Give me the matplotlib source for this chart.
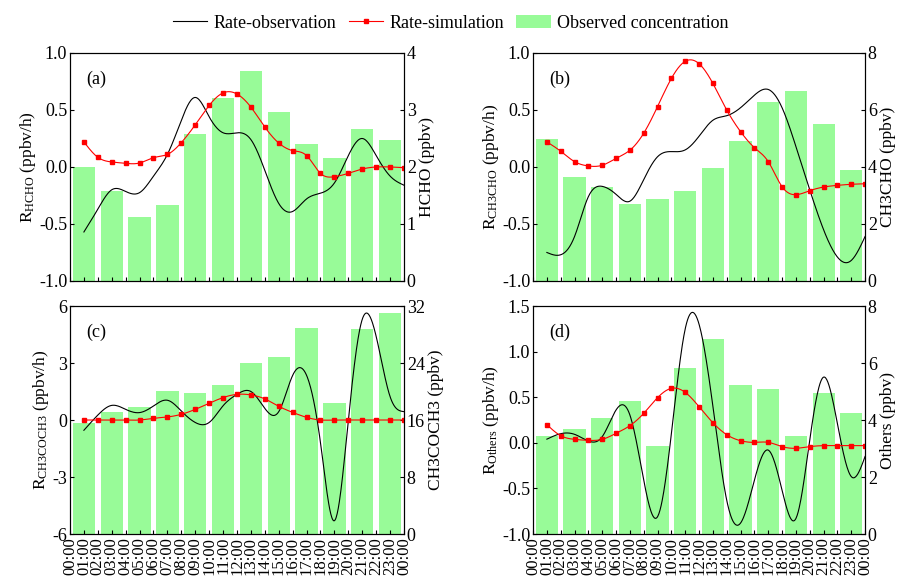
# ─────────────────────────────────────────────────────────
# plot.py
# Tagesgang: Rate-Beobachtung / Rate-Simulation / Konzentration
# ─────────────────────────────────────────────────────────

import numpy as np
import matplotlib.pyplot as plt
from matplotlib.lines import Line2D
from matplotlib.patches import Patch

plt.rcParams["font.family"] = ["Liberation Serif", "DejaVu Serif"]
plt.rcParams["mathtext.fontset"] = "custom"
plt.rcParams["mathtext.rm"] = "Liberation Serif"
plt.rcParams["mathtext.it"] = "Liberation Serif:italic"
plt.rcParams["axes.unicode_minus"] = False


# ══════════════════════════════════════════════════════════
# DATEN
# ══════════════════════════════════════════════════════════

stunden_labels = [f"{h % 24:02d}:00" for h in range(25)]
bar_stunden    = np.arange(1, 24, 2)
rate_stunden   = np.arange(1, 25)

# (a) HCHO
konz_a = [2.00, 1.57, 1.12, 1.34, 2.57, 3.21, 3.68, 2.97, 2.40, 2.16, 2.66, 2.47]
sim_a  = [0.22, 0.085, 0.044, 0.032, 0.035, 0.082, 0.11, 0.214, 0.37, 0.54,
          0.65, 0.64, 0.525, 0.35, 0.21, 0.144, 0.10, -0.056, -0.085, -0.056,
          -0.018, 0.0, 0.0, -0.006]
obs_a  = [-0.57, -0.37, -0.20, -0.215, -0.225, -0.08, 0.11, 0.41, 0.61, 0.44,
          0.30, 0.30, 0.24, -0.03, -0.32, -0.39, -0.28, -0.23, -0.14, 0.10,
          0.25, 0.10, -0.08, -0.16]

# (b) CH3CHO
konz_b = [4.99, 3.65, 3.30, 2.71, 2.87, 3.16, 3.98, 4.91, 6.29, 6.67, 5.51, 3.89]
sim_b  = [0.22, 0.138, 0.047, 0.009, 0.015, 0.076, 0.147, 0.296, 0.53, 0.777,
          0.927, 0.906, 0.733, 0.50, 0.31, 0.17, 0.047, -0.173, -0.243, -0.208,
          -0.176, -0.161, -0.152, -0.147]
obs_b  = [-0.75, -0.77, -0.61, -0.26, -0.17, -0.24, -0.30, -0.11, 0.09, 0.135,
          0.15, 0.27, 0.41, 0.45, 0.52, 0.63, 0.68, 0.52, 0.18, -0.20,
          -0.55, -0.79, -0.82, -0.61]

# (c) CH3COCH3
konz_c = [15.53, 17.08, 17.87, 20.02, 19.79, 20.91, 24.0, 24.8, 28.96, 18.39, 28.77, 31.06]
sim_c  = [0.0, 0.0, 0.0, 0.0, 0.0, 0.09, 0.16, 0.30, 0.56, 0.88,
          1.18, 1.35, 1.32, 1.11, 0.72, 0.40, 0.14, 0.0, 0.0, 0.0,
          0.0, 0.0, 0.0, 0.0]
obs_c  = [-0.54, 0.26, 0.77, 0.56, 0.39, 0.74, 1.04, 0.47, -0.13, -0.13,
          0.75, 1.35, 1.50, 0.61, 0.44, 2.35, 2.35, -1.2, -5.3, 0.0,
          5.3, 4.4, 1.23, 0.44]

# (d) Others
konz_d = [3.45, 3.68, 4.08, 4.67, 3.08, 5.84, 6.85, 5.22, 5.09, 3.43, 4.96, 4.26]
sim_d  = [0.199, 0.078, 0.038, 0.027, 0.038, 0.104, 0.188, 0.323, 0.495, 0.597,
          0.553, 0.396, 0.22, 0.089, 0.023, 0.005, 0.005, -0.042, -0.06, -0.042,
          -0.031, -0.031, -0.031, -0.031]
obs_d  = [0.04, 0.10, 0.093, 0.02, 0.067, 0.36, 0.305, -0.41, -0.81, 0.10,
          1.25, 1.30, 0.40, -0.63, -0.88, -0.41, -0.08, -0.52, -0.83, 0.03,
          0.72, 0.21, -0.37, -0.15]

GRUEN = "#98fb98"


# ══════════════════════════════════════════════════════════
# HILFSFUNKTIONEN
# ══════════════════════════════════════════════════════════

def spline(x, y, n=600):
    """Natürlicher kubischer Spline (nur zur Darstellung der Linie)"""
    x = np.asarray(x, float)
    y = np.asarray(y, float)
    k = len(x)
    h = np.diff(x)
    A = np.zeros((k, k))
    r = np.zeros(k)
    A[0, 0] = A[-1, -1] = 1.0
    for i in range(1, k - 1):
        A[i, i - 1] = h[i - 1]
        A[i, i]     = 2 * (h[i - 1] + h[i])
        A[i, i + 1] = h[i]
        r[i] = 3 * ((y[i + 1] - y[i]) / h[i] - (y[i] - y[i - 1]) / h[i - 1])
    c = np.linalg.solve(A, r)
    b = (y[1:] - y[:-1]) / h - h * (2 * c[:-1] + c[1:]) / 3
    d = (c[1:] - c[:-1]) / (3 * h)

    xs  = np.linspace(x[0], x[-1], n)
    idx = np.clip(np.searchsorted(x, xs) - 1, 0, k - 2)
    dx  = xs - x[idx]
    ys  = y[idx] + b[idx] * dx + c[idx] * dx**2 + d[idx] * dx**3
    return xs, ys


def panel(pos, obs, sim, konz, ylim_l, yticks_l, ylabels_l, ylim_r, yticks_r,
          ylabel_l, ylabel_r, tag, x_labels):
    ax  = fig.add_axes(pos)
    ax2 = ax.twinx()

    # ─── Balken (rechte Achse) ────────────────────────────
    ax2.bar(bar_stunden, konz, width=1.6, color=GRUEN, linewidth=0)
    ax2.set_ylim(*ylim_r)
    ax2.set_yticks(yticks_r)
    ax2.set_ylabel(ylabel_r, fontsize=12.5, labelpad=2)

    # Linien vor die Balken
    ax.set_zorder(ax2.get_zorder() + 1)
    ax.patch.set_visible(False)

    # ─── Linien (linke Achse) ─────────────────────────────
    xs, ys = spline(rate_stunden, obs)
    ax.plot(xs, ys, color="black", lw=0.8)
    xs, ys = spline(rate_stunden, sim)
    ax.plot(xs, ys, color="red", lw=0.8)
    ax.plot(rate_stunden, sim, "s", color="red", ms=2.6)

    ax.set_xlim(0, 24)
    ax.set_ylim(*ylim_l)
    ax.set_yticks(yticks_l)
    ax.set_yticklabels(ylabels_l)
    ax.set_ylabel(ylabel_l, fontsize=12.5, labelpad=1)
    ax.set_xticks(np.arange(25))
    if x_labels:
        ax.set_xticklabels(stunden_labels, rotation=90)
    else:
        ax.set_xticklabels([])

    for a in (ax, ax2):
        a.tick_params(direction="in", length=3, labelsize=13, pad=2)
    ax.tick_params(axis="x", labelsize=12, pad=2)

    ax.text(0.05, 0.885, tag, transform=ax.transAxes, fontsize=13, va="center")
    return ax


# ══════════════════════════════════════════════════════════
# FIGUR
# ══════════════════════════════════════════════════════════

fig = plt.figure(figsize=(9.03, 5.79), dpi=100)

links  = [0.0775, 0.5903]
breite = [0.3699, 0.3677]
unten  = [0.5147, 0.0777]
hoehe  = 0.3938

panel([links[0], unten[0], breite[0], hoehe], obs_a, sim_a, konz_a,
      (-1, 1), [-1, -0.5, 0, 0.5, 1], ["-1.0", "-0.5", "0.0", "0.5", "1.0"],
      (0, 4), [0, 1, 2, 3, 4],
      r"R$_{\mathrm{HCHO}}$ (ppbv/h)", "HCHO (ppbv)", "(a)", False)

panel([links[1], unten[0], breite[1], hoehe], obs_b, sim_b, konz_b,
      (-1, 1), [-1, -0.5, 0, 0.5, 1], ["-1.0", "-0.5", "0.0", "0.5", "1.0"],
      (0, 8), [0, 2, 4, 6, 8],
      r"R$_{\mathrm{CH3CHO}}$ (ppbv/h)", "CH3CHO (ppbv)", "(b)", False)

panel([links[0], unten[1], breite[0], hoehe], obs_c, sim_c, konz_c,
      (-6, 6), [-6, -3, 0, 3, 6], ["-6", "-3", "0", "3", "6"],
      (0, 32), [0, 8, 16, 24, 32],
      r"R$_{\mathrm{CH3COCH3}}$ (ppbv/h)", "CH3COCH3 (ppbv)", "(c)", True)

panel([links[1], unten[1], breite[1], hoehe], obs_d, sim_d, konz_d,
      (-1, 1.5), [-1, -0.5, 0, 0.5, 1, 1.5],
      ["-1.0", "-0.5", "0.0", "0.5", "1.0", "1.5"],
      (0, 8), [0, 2, 4, 6, 8],
      r"R$_{\mathrm{Others}}$ (ppbv/h)", "Others (ppbv)", "(d)", True)

# ─── Legende ──────────────────────────────────────────────
handles = [
    Line2D([], [], color="black", lw=0.8),
    Line2D([], [], color="red", lw=0.8, marker="s", ms=2.6),
    Patch(facecolor=GRUEN, edgecolor="none"),
]
fig.legend(handles, ["Rate-observation", "Rate-simulation", "Observed concentration"],
           loc="center", bbox_to_anchor=(0.499, 0.96), ncol=3, frameon=False,
           fontsize=13, handlelength=1.9, columnspacing=0.7, handletextpad=0.35)

fig.savefig("out.png", dpi=100)
